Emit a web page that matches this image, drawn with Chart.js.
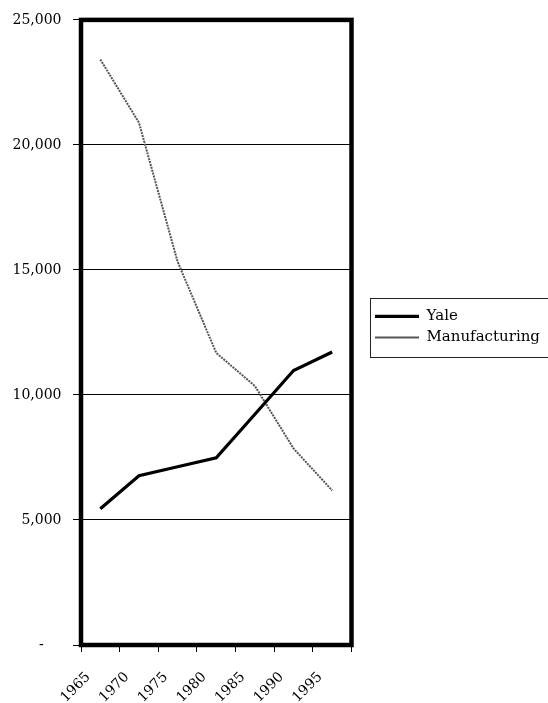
<!DOCTYPE html>
<html>
<head>
<meta charset="utf-8">
<script src="https://cdn.jsdelivr.net/npm/chart.js@4"></script>
<style>
  html, body { margin: 0; padding: 0; background: #fff; }
  #wrap { position: relative; width: 548px; height: 703px; }
</style>
</head>
<body>
<div id="wrap"><canvas id="c"></canvas></div>
<script>
const years = ['1965', '1970', '1975', '1980', '1985', '1990', '1995'];
const yaleValues = [5450, 6770, 7130, 7490, 9230, 10980, 11720];
const manufacturingValues = [23420, 20890, 15330, 11680, 10360, 7860, 6180];
const yTickStep = 5000;
const yMax = 25000;

const serif = '"DejaVu Serif", "Liberation Serif", serif';

const framePlugin = {
  id: 'frame',
  afterInit(chart) {
    const lg = chart.legend;
    if (lg) {
      const orig = lg.fit.bind(lg);
      lg.fit = function () { orig(); this.width = 196.5; };
    }
  },
  afterLayout(chart) {
    const lg = chart.legend;
    if (!lg) return;
    const dx = 369 - lg.left;
    lg.left += dx; lg.right += dx;
    lg.top -= 5.5; lg.bottom -= 5.5;
  },
  afterDatasetsDraw(chart) {
    const {ctx, chartArea: a} = chart;
    ctx.save();
    ctx.strokeStyle = '#000';
    ctx.lineWidth = 4.5;
    ctx.strokeRect(a.left, a.top, a.right - a.left, a.bottom - a.top);
    ctx.restore();
  },
  afterDraw(chart) {
    const {ctx} = chart;
    const lg = chart.legend;
    ctx.save();
    ctx.strokeStyle = '#222';
    ctx.lineWidth = 1;
    ctx.strokeRect(lg.left + 1.5, 298.5, 200, 59);
    ctx.restore();
  }
};

new Chart(document.getElementById('c'), {
  type: 'line',
  data: {
    labels: years,
    datasets: [
      {
        label: 'Yale',
        data: yaleValues,
        borderColor: '#000',
        backgroundColor: '#000',
        borderWidth: 3.2,
        pointRadius: 0,
        pointStyle: 'line',
        tension: 0,
        fill: false
      },
      {
        label: 'Manufacturing',
        data: manufacturingValues,
        borderColor: '#555',
        backgroundColor: '#555',
        borderWidth: 2,
        borderDash: [2, 1],
        pointRadius: 0,
        pointStyle: 'line',
        tension: 0,
        fill: false
      }
    ]
  },
  options: {
    responsive: true,
    maintainAspectRatio: false,
    animation: false,
    layout: { padding: { top: 13, left: 0, right: 0, bottom: 0 } },
    plugins: {
      tooltip: { enabled: false },
      legend: {
        position: 'right',
        fullSize: false,
        align: 'center',
        labels: {
          usePointStyle: true,
          pointStyleWidth: 44,
          padding: 6,
          color: '#000',
          font: { family: serif, size: 15 }
        }
      }
    },
    scales: {
      x: {
        type: 'category',
        offset: true,
        grid: { offset: true, drawOnChartArea: false, color: '#000', tickLength: 7, lineWidth: 1 },
        border: { display: false },
        ticks: {
          autoSkip: false,
          minRotation: 45,
          maxRotation: 45,
          padding: 17,
          labelOffset: -12,
          color: '#000',
          font: { family: serif, size: 14 }
        },
        afterFit(s) { s.height = 58; }
      },
      y: {
        min: 0,
        max: yMax,
        grid: { color: '#000', lineWidth: 1, tickLength: 8 },
        border: { display: false },
        ticks: {
          stepSize: yTickStep,
          padding: 11.5,
          color: '#000',
          font: { family: serif, size: 14 },
          callback: v => v === 0 ? '-    ' : v.toLocaleString('en-US')
        },
        afterFit(s) { s.width = 81; }
      }
    }
  },
  plugins: [framePlugin]
});
</script>
</body>
</html>
